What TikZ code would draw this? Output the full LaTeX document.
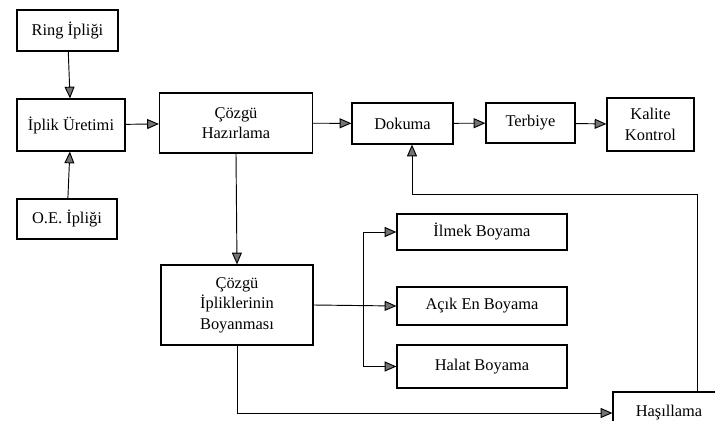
\documentclass[tikz,border=0pt]{standalone}
\usepackage{fontspec}
\setmainfont{Liberation Serif}
\usetikzlibrary{arrows.meta}
\tikzset{
  kutu/.style={draw, line width=1pt, align=center, inner sep=1pt, font=\fontsize{14}{17.5}\selectfont},
  ok/.style={line width=0.8pt, -{Triangle[length=10pt, width=8.5pt, fill=black!55]}}
}
\begin{document}
\begin{tikzpicture}[x=0.03cm, y=-0.03cm]
\useasboundingbox (0,0) rectangle (715,421);
\node[kutu, minimum width=101*0.03cm, minimum height=41*0.03cm] (ring) at (67.5,30.5){Ring İpliği};
\node[kutu, minimum width=108*0.03cm, minimum height=52*0.03cm] (uretim) at (71,125){İplik Üretimi};
\node[kutu, minimum width=100*0.03cm, minimum height=40*0.03cm] (oe) at (67,219){O.E. İpliği};
\node[kutu, minimum width=153*0.03cm, minimum height=60*0.03cm] (hazir) at (236,123){Çözgü\\Hazırlama};
\node[kutu, minimum width=101*0.03cm, minimum height=41*0.03cm] (dokuma) at (402.5,123.5){Dokuma};
\node[kutu, minimum width=89*0.03cm, minimum height=40*0.03cm] (terbiye) at (530.5,123){Terbiye};
\node[kutu, minimum width=87*0.03cm, minimum height=53*0.03cm] (kalite) at (650.5,124.5){Kalite\\Kontrol};
\node[kutu, minimum width=152*0.03cm, minimum height=80*0.03cm] (boyanma) at (237,305){Çözgü\\İpliklerinin\\Boyanması};
\node[kutu, minimum width=170*0.03cm, minimum height=36*0.03cm] (ilmek) at (482,232){İlmek Boyama};
\node[kutu, minimum width=170*0.03cm, minimum height=38*0.03cm] (acik) at (482,306){Açık En Boyama};
\node[kutu, minimum width=170*0.03cm, minimum height=43*0.03cm] (halat) at (482,366.5){Halat Boyama};
\node[kutu, minimum width=112*0.03cm, minimum height=42*0.03cm] (hasil) at (669,413){Haşıllama};
\coordinate (dal) at (363,306);
\coordinate (geri) at (697,194);
\coordinate (donus) at (412,194);
\draw[ok] (ring) -- (uretim);
\draw[ok] (oe) -- (uretim);
\draw[ok] (uretim) -- (hazir);
\draw[ok] (hazir) -- (dokuma);
\draw[ok] (dokuma) -- (terbiye);
\draw[ok] (terbiye) -- (kalite);
\draw[ok] (hazir.south) -- (boyanma.north);
\draw[ok] (boyanma.east) -- (acik.west);
\draw[ok] (dal) |- (ilmek.west);
\draw[ok] (dal) |- (halat.west);
\draw[ok] (boyanma.south) |- (hasil.west);
\draw[ok] (geri |- hasil.north) -- (geri) -- (donus) -- (donus |- dokuma.south);
\end{tikzpicture}
\end{document}
